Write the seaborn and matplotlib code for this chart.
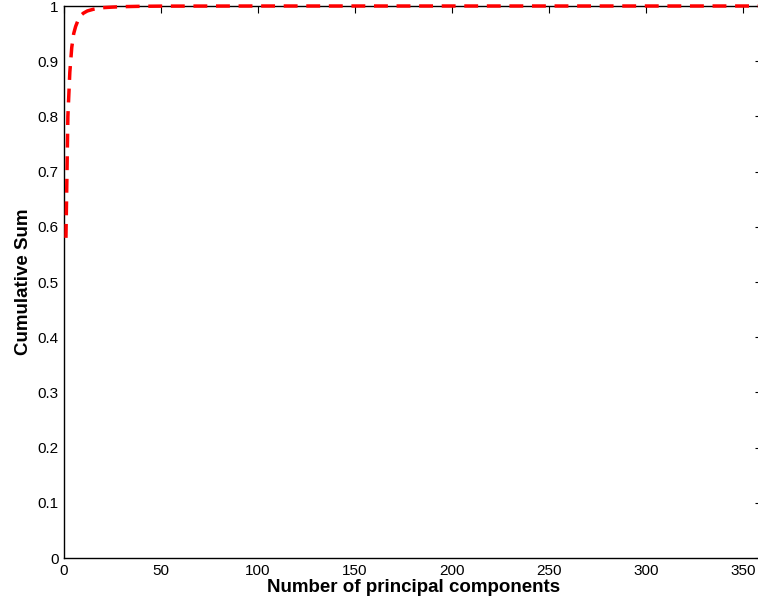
import matplotlib
matplotlib.use("Agg")
import matplotlib.pyplot as plt
import seaborn as sns
import pandas as pd

components = [1, 2, 3, 4, 5, 6, 7, 8, 9, 10, 12, 15, 20, 25, 30, 40, 50, 75, 100, 150, 200, 250, 300, 350, 360]
cum_sum = [0.58, 0.80, 0.88, 0.925, 0.95, 0.963, 0.972, 0.979, 0.984, 0.987, 0.991, 0.994, 0.997,
           0.998, 0.9988, 0.9995, 0.9998, 0.9999, 1.0, 1.0, 1.0, 1.0, 1.0, 1.0, 1.0]
xticks = [0, 50, 100, 150, 200, 250, 300, 350]
yticks = [0, 0.1, 0.2, 0.3, 0.4, 0.5, 0.6, 0.7, 0.8, 0.9, 1]
ytick_labels = ["0", "0.1", "0.2", "0.3", "0.4", "0.5", "0.6", "0.7", "0.8", "0.9", "1"]

sns.set_style("white")
plt.rcParams['font.family'] = ['Liberation Sans', 'DejaVu Sans']
plt.rcParams['text.color'] = 'black'
plt.rcParams['axes.labelcolor'] = 'black'

df = pd.DataFrame({"n": components, "cs": cum_sum})

fig = plt.figure(figsize=(7.58, 6.08), dpi=100)
W, H = 758, 608
left, right, top, bottom = 64, 64 + 360 * (679 / 350), 6, 558
ax = fig.add_axes([left / W, 1 - bottom / H, (right - left) / W, (bottom - top) / H])

sns.lineplot(data=df, x="n", y="cs", ax=ax, color="red", linestyle="--", linewidth=2.5)
line = ax.lines[0]
line.set_dashes((4, 2.5))
line.set_zorder(5)
line.set_clip_on(False)

ax.set_xlim(0, 360)
ax.set_ylim(0, 1)
ax.set_xticks(xticks)
ax.set_xticklabels([str(t) for t in xticks])
ax.set_yticks(yticks)
ax.set_yticklabels(ytick_labels)
ax.tick_params(direction="in", length=5, width=0.8, top=True, right=True,
               labelsize=11, colors="black", pad=4)
for s in ax.spines.values():
    s.set_color("black")
    s.set_linewidth(1.0)
ax.set_xlabel("Number of principal components", fontsize=13.5, fontweight="bold", labelpad=1, color="black")
ax.set_ylabel("Cumulative Sum", fontsize=13.5, fontweight="bold", labelpad=4, color="black")
ax.grid(False)

fig.savefig("out.png", dpi=100)
